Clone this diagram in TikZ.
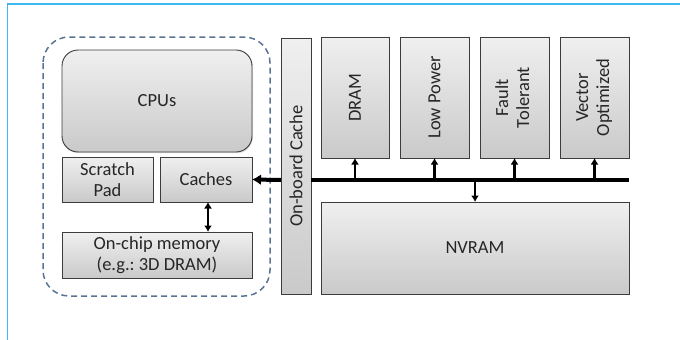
\documentclass[tikz,border=0pt]{standalone}
\usepackage{fontspec}
\setmainfont{Carlito}
\usetikzlibrary{positioning}
\usetikzlibrary{arrows.meta}
\usetikzlibrary{shadows}
\definecolor{framec}{HTML}{3DB8F0}
\definecolor{dashc}{HTML}{5A7393}
\definecolor{edgec}{HTML}{3C3C3C}
\frenchspacing

\begin{document}
\begin{tikzpicture}[x=1pt, y=-1pt,
    blk/.style={draw=edgec, line width=0.9pt, inner sep=0pt, outer sep=0pt,
        top color=gray!12, bottom color=gray!42, text=black!85,
        font=\fontsize{18.5}{21}\selectfont, align=center,
        drop shadow={shadow xshift=1pt, shadow yshift=-1.2pt, fill=gray!50, opacity=.5},
        minimum width=#1},
    arr/.style={line width=2.5pt, -{Latex[length=6.5pt, width=8pt]}},
    bus/.style={line width=4pt}]
            \useasboundingbox (0,0) rectangle (680,340);
            \draw[framec, line width=1.5pt] (7.5,340) -- (7.5,4) -- (680,4);

            \draw[dashc, line width=1.5pt, dash pattern=on 6pt off 4pt, rounded corners=26pt] (43,37) rectangle (270,296);

            \node[blk=190pt, minimum height=102pt, rounded corners=16pt] (cpu) at (157, 101) {CPUs};
            \node[blk=91pt, minimum height=45pt] (scratch) at (107.5, 179.5) {Scratch\\Pad};
            \node[blk=92pt, minimum height=45pt] (caches) at (206, 179.5) {Caches};
            \node[blk=190pt, minimum height=46pt] (onchip) at (157, 255) {On-chip memory\\(e.g.: 3D DRAM)};

            \node[blk=30pt, minimum height=256pt] (obc) at (296, 166) {\rotatebox{90}{On-board Cache}};
            \node[blk=68pt, minimum height=121pt] (dram) at (355, 97.5) {\rotatebox{90}{DRAM}};
            \node[blk=69pt, minimum height=121pt] (lowp) at (434.5, 97.5) {\rotatebox{90}{Low Power}};
            \node[blk=69pt, minimum height=121pt] (fault) at (514.5, 97.5) {\rotatebox{90}{\begin{tabular}{@{}c@{}}Fault\\Tolerant\end{tabular}}};
            \node[blk=69pt, minimum height=121pt] (vect) at (594.5, 97.5) {\rotatebox{90}{\begin{tabular}{@{}c@{}}Vector\\Optimized\end{tabular}}};
            \node[blk=308pt, minimum height=92pt] (nvram) at (475, 248) {NVRAM};

            \coordinate (busr) at (629, 180);

            \draw[bus] (busr) -- (obc.east |- busr);
            \draw[bus, -{Latex[length=9pt, width=11pt]}] (obc.west |- busr) -- (caches.east);
            \draw[line width=2.2pt, {Latex[length=6.5pt, width=8pt]}-{Latex[length=6.5pt, width=8pt]}] ([xshift=2pt]caches.south) -- ([xshift=2pt]caches.south |- onchip.north);
            \foreach \b in {dram, lowp, fault, vect}
                \draw[arr] (\b.south |- busr) -- (\b.south);
            \draw[arr] (nvram.north |- busr) -- (nvram.north);
        \end{tikzpicture}
\end{document}
